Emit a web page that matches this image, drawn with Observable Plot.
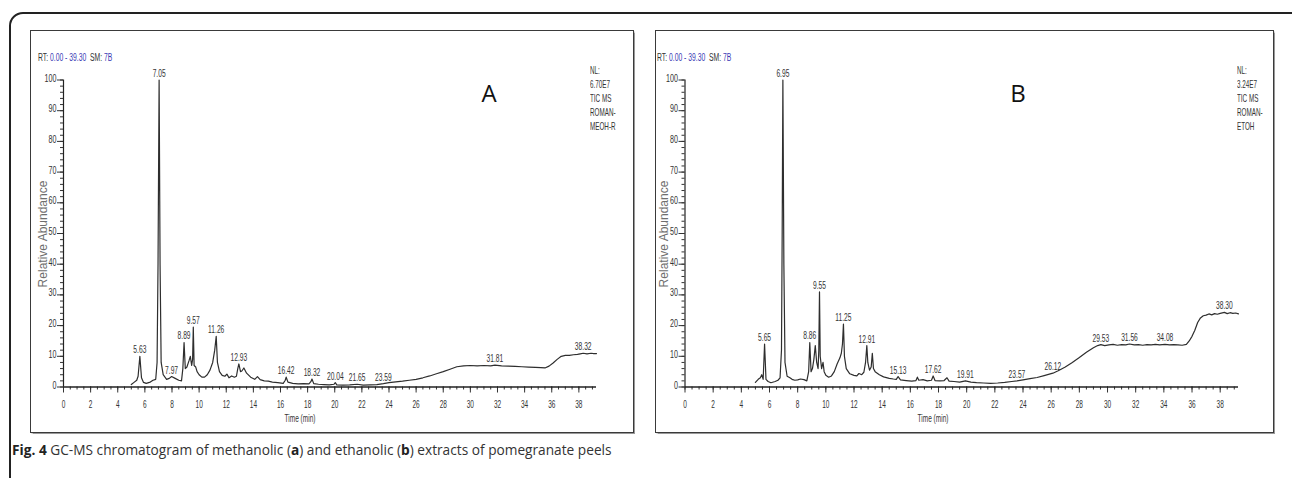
<!DOCTYPE html>
<html>
<head>
<meta charset="utf-8">
<script src="https://cdn.jsdelivr.net/npm/d3@7"></script>
<script src="https://cdn.jsdelivr.net/npm/@observablehq/plot@0.6"></script>
<style>
  html, body { margin: 0; padding: 0; background: #fff; }
  #root { position: relative; width: 1292px; height: 478px; overflow: hidden; background: #fff; }
  .outer { position: absolute; left: 9px; top: 12px; width: 1300px; height: 500px; border: 2px solid #222; border-radius: 14px; box-sizing: border-box; }
  .panel { position: absolute; border: 1.5px solid #3a3a3a; box-sizing: border-box; box-shadow: 0.5px 0.5px 1px #999; }
  .panel svg { position: absolute; left: 0; top: 0; overflow: visible; }
  .sans { font-family: "Liberation Sans", Arial, sans-serif; }
  .t { position: absolute; white-space: nowrap; color: #333; }
  .rt { font-size: 10px; transform-origin: 0 50%; transform: translateY(-50%) scaleX(0.68); }
  .rt .b { color: #3b3bb5; }
  .nl { font-size: 10.5px; line-height: 14px; color: #333; transform-origin: 0 0; transform: scaleX(0.6); }
  .big { font-family: "Open Sans", "Liberation Sans", sans-serif; font-size: 24px; color: #111; transform: translate(-50%, -50%); }
  .ylab { font-size: 12px; color: #6e6e6e; transform: translate(-50%, -50%) rotate(-90deg); }
  .xlab { font-size: 10.5px; color: #333; transform: translate(-50%, -50%) scaleX(0.62); }
  .cap { font-family: "Open Sans", "Liberation Sans", sans-serif; font-size: 13.7px; color: #333; transform: translateY(-50%); }
  .cap b { color: #222; }
</style>
</head>
<body>
<div id="root">
  <div class="outer"></div>
  <div class="panel" id="pA" style="left:30px; top:30px; width:604px; height:403px;"></div>
  <div class="panel" id="pB" style="left:655px; top:30px; width:619px; height:403px;"></div>

  <div class="t sans rt" style="left:38px; top:57px;">RT: <span class="b">0.00 - 39.30</span>&nbsp; SM: <span class="b">7B</span></div>
  <div class="t sans rt" style="left:657px; top:57px;">RT: <span class="b">0.00 - 39.30</span>&nbsp; SM: <span class="b">7B</span></div>

  <div class="t big" style="left:489px; top:92px;">A</div>
  <div class="t big" style="left:1018px; top:92px;">B</div>

  <div class="t sans nl" style="left:590px; top:63px;">NL:<br>6.70E7<br>TIC MS<br>ROMAN-<br>MEOH-R</div>
  <div class="t sans nl" style="left:1237px; top:63px;">NL:<br>3.24E7<br>TIC MS<br>ROMAN-<br>ETOH</div>

  <div class="t sans ylab" style="left:43px; top:234px;">Relative Abundance</div>
  <div class="t sans ylab" style="left:664px; top:234px;">Relative Abundance</div>

  <div class="t sans xlab" style="left:300px; top:418px;">Time (min)</div>
  <div class="t sans xlab" style="left:933px; top:418px;">Time (min)</div>

  <div class="t cap" style="left:12px; top:449px;"><b>Fig. 4</b> GC-MS chromatogram of methanolic (<b>a</b>) and ethanolic (<b>b</b>) extracts of pomegranate peels</div>
</div>

<script>
// ---------- Data: panel A (methanolic extract) ----------
const timeA = [5.0,5.2,5.4,5.5,5.63,5.75,5.9,6.1,6.4,6.6,6.8,6.9,6.97,7.05,7.12,7.2,7.35,7.6,7.8,7.97,8.2,8.5,8.7,8.8,8.89,8.98,9.1,9.25,9.35,9.45,9.52,9.57,9.63,9.75,9.85,10.0,10.2,10.4,10.6,10.8,11.0,11.15,11.26,11.35,11.5,11.7,11.9,12.05,12.2,12.4,12.6,12.75,12.85,12.93,13.05,13.15,13.3,13.5,13.8,14.1,14.3,14.5,14.8,15.1,15.4,15.8,16.2,16.35,16.42,16.55,16.9,17.3,17.7,18.1,18.25,18.32,18.45,18.8,19.2,19.6,19.95,20.04,20.15,20.6,21.1,21.65,22.1,22.6,23.1,23.59,24.0,24.5,25.0,25.5,26.0,26.5,27.0,27.5,28.0,28.5,29.0,29.5,30.0,30.5,31.0,31.5,31.81,32.3,32.8,33.3,33.8,34.3,34.8,35.2,35.5,35.8,36.1,36.4,36.7,37.0,37.3,37.6,37.9,38.1,38.32,38.6,38.9,39.1,39.3];
const abundA = [0.8,1.5,2.2,3.5,10,3,1.5,1.2,1.6,2.2,2.5,8,40,100,40,8,4,2.5,2.8,3.4,2.9,2.2,2.0,6,14.5,6,6.5,8.5,10,7,9,19.5,7,6.5,5,4,3.2,3.2,4,5.5,8,12,16.5,8,5,3.8,3.5,4.2,3,3.6,3.2,3.5,6,7.5,5,5.2,6.2,4.5,3.2,2.5,3.4,2.4,2.0,1.9,1.6,1.4,1.2,2.2,3.2,1.6,1.2,1.0,1.1,1.0,1.8,2.6,1.1,0.9,0.8,0.7,0.9,1.4,0.7,0.6,0.7,0.9,0.6,0.7,0.8,1.1,1.4,1.7,1.9,2.2,2.5,3.0,3.6,4.3,5.0,5.8,6.6,6.9,7.0,6.9,7.0,6.9,7.1,6.9,6.8,6.7,6.6,6.5,6.4,6.3,6.2,6.8,7.8,9.0,10.0,10.3,10.3,10.5,10.6,10.8,11.0,10.8,11.0,10.9,10.9];
const peakTimesA = [5.63,7.05,7.97,8.89,9.57,11.26,12.93,16.42,18.32,20.04,21.65,23.59,31.81,38.32];
const peakHeightsA = [10,100,3.4,14.5,19.5,16.5,7.5,3.2,2.6,1.4,0.9,1.1,7.1,11.0];

// ---------- Data: panel B (ethanolic extract) ----------
const timeB = [5.0,5.2,5.35,5.45,5.55,5.65,5.75,5.9,6.1,6.4,6.6,6.75,6.85,6.9,6.95,7.02,7.1,7.25,7.45,7.6,7.8,8.0,8.2,8.45,8.65,8.78,8.86,8.95,9.05,9.15,9.25,9.35,9.45,9.5,9.55,9.6,9.7,9.8,9.88,10.0,10.2,10.4,10.6,10.8,11.0,11.1,11.18,11.25,11.32,11.45,11.7,12.0,12.2,12.35,12.55,12.7,12.82,12.91,12.98,13.1,13.22,13.3,13.38,13.5,13.8,14.1,14.5,14.8,15.0,15.13,15.3,15.7,16.1,16.4,16.5,16.6,16.9,17.2,17.5,17.62,17.75,18.1,18.4,18.6,18.75,19.1,19.5,19.91,20.3,20.7,21.2,21.7,22.2,22.7,23.2,23.57,24.0,24.5,25.0,25.5,26.12,26.5,27.0,27.5,28.0,28.5,29.0,29.3,29.53,29.8,30.1,30.4,30.7,31.0,31.3,31.56,31.9,32.2,32.5,32.8,33.1,33.4,33.7,34.08,34.4,34.7,35.0,35.3,35.6,35.8,36.0,36.2,36.4,36.6,36.8,37.0,37.2,37.4,37.6,37.8,38.0,38.3,38.5,38.7,38.9,39.1,39.3];
const abundB = [1.5,2.5,3,4,2.5,14,2.5,1.8,1.4,1.8,2.2,3,12,50,100,40,8,3.5,3.0,2.5,2.2,2.3,2.6,2.4,2.0,5,14.5,5,6,9,13.5,8,6,12,31,10,6,8,5,3.8,3.2,3.6,5,7.5,9.5,11,14,20.5,10,6,4.3,3.8,3.6,4.4,4.0,4.8,8,13.5,8,5.5,6.5,11,6,5,4,3.3,2.8,2.6,2.5,3.4,2.3,2.1,1.9,2.1,3.2,2.2,2.4,2.0,2.2,3.6,2.1,2.0,2.1,3.0,1.9,1.8,1.6,2.0,1.6,1.4,1.3,1.2,1.3,1.5,1.8,2.0,2.3,2.7,3.1,3.7,4.5,5.3,6.5,8.0,9.6,11.3,12.8,13.5,13.8,13.5,13.7,13.9,13.6,13.8,13.7,14.0,13.7,13.8,13.6,13.8,13.7,13.9,13.7,13.9,13.7,13.8,13.7,13.6,13.9,15,16.5,18.5,21,22.5,23.2,23.4,23.8,23.5,23.9,23.7,24.0,24.3,23.9,24.2,24.0,24.1,23.8];
const peakTimesB = [5.65,6.95,8.86,9.55,11.25,12.91,15.13,17.62,19.91,23.57,26.12,29.53,31.56,34.08,38.30];
const peakHeightsB = [14,100,14.5,31,20.5,13.5,3.4,3.6,2.0,2.0,4.5,13.8,14.0,13.9,24.3];

// ---------- Axis tick values ----------
const yMajorTicks = [0,10,20,30,40,50,60,70,80,90,100];
const yMinorTicks = d3.range(0, 101, 2);
const xMajorTicks = [0,2,4,6,8,10,12,14,16,18,20,22,24,26,28,30,32,34,36,38];
const xMinorTicks = d3.range(0, 39.3, 0.5);

const FONT = '"Liberation Sans", Arial, sans-serif';

function chart(times, values, pT, pH, w, h, ml, mr, mt, mb) {
  const trace = times.map((t, i) => ({t, v: values[i]}));
  const peaks = pT.map((t, i) => ({t, v: pH[i], label: t.toFixed(2)}));
  return Plot.plot({
    width: w, height: h,
    marginLeft: ml, marginRight: mr, marginTop: mt, marginBottom: mb,
    style: {fontFamily: FONT, fontSize: "10px", color: "#333", background: "transparent", overflow: "visible"},
    x: {domain: [0, 39.3], axis: null},
    y: {domain: [0, 100], axis: null},
    marks: [
      Plot.axisY(yMinorTicks, {tickSize: 3, tickFormat: () => "", label: null, stroke: "#333"}),
      Plot.axisY(yMajorTicks, {tickSize: 6, tickPadding: 1, label: null, stroke: "#333", fill: "#333", fontSize: 10.5}),
      Plot.axisX(xMinorTicks, {tickSize: 3, tickFormat: () => "", label: null, stroke: "#333"}),
      Plot.axisX(xMajorTicks, {tickSize: 6, tickPadding: 15, label: null, stroke: "#333", fill: "#333", fontSize: 10.5}),
      Plot.ruleX([0], {stroke: "#222", strokeWidth: 1.2}),
      Plot.ruleY([0], {stroke: "#222", strokeWidth: 1.5}),
      Plot.line(trace, {x: "t", y: "v", stroke: "#2e2e2e", strokeWidth: 1.2}),
      Plot.text(peaks, {x: "t", y: "v", text: "label", dy: -3, lineAnchor: "bottom", fill: "#333", fontSize: 11.5})
    ]
  });
}

// narrow every text horizontally, like the instrument's condensed font
function condense(svg) {
  svg.querySelectorAll("text").forEach(el => {
    const g = el.closest("g[aria-label]");
    const lab = g ? g.getAttribute("aria-label") : "";
    if (!el.textContent.trim()) return;
    const isY = lab.includes("y-axis");
    const s = isY ? 0.68 : lab.includes("x-axis") ? 0.62 : 0.58;
    let tr = el.getAttribute("transform") || "";
    if (el.hasAttribute("x") || el.hasAttribute("y")) {
      const x = +el.getAttribute("x") || 0, y = +el.getAttribute("y") || 0;
      el.removeAttribute("x"); el.removeAttribute("y");
      tr = tr + ` translate(${x},${y})`;
    }
    el.setAttribute("transform", tr + (isY ? " translate(0,1.5)" : "") + ` scale(${s},1)`);
  });
}

for (const [id, args] of [["pA", [timeA, abundA, peakTimesA, peakHeightsA, 601, 400, 32, 36, 48.5, 44.5]],
                          ["pB", [timeB, abundB, peakTimesB, peakHeightsB, 616, 400, 28.5, 34, 48.5, 44.5]]]) {
  const svg = chart(...args);
  condense(svg);
  document.getElementById(id).appendChild(svg);
}
</script>
</body>
</html>
